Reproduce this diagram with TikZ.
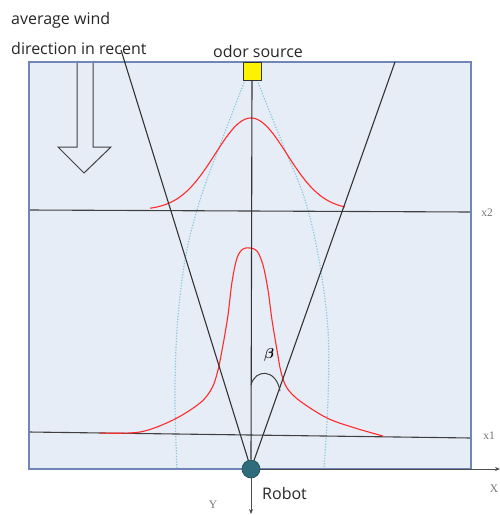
\documentclass[tikz,border=0pt]{standalone}
\usepackage{amsmath}
\usepackage{fontspec}
\setmainfont{Open Sans}
\newfontfamily\serifx{Liberation Serif}
\usetikzlibrary{arrows.meta}
\definecolor{bgblue}{HTML}{E7EDF7}
\definecolor{boxborder}{HTML}{6F86B6}
\definecolor{plumeblue}{HTML}{85C6DD}
\definecolor{robotfill}{HTML}{2E6C7B}
\definecolor{robotedge}{HTML}{1E4A56}
\definecolor{curvered}{HTML}{FF2A2A}
\tikzset{
  ray/.style={draw=black!80, line width=1.1pt},
  hline/.style={draw=black!75, line width=1.1pt},
  odor/.style={draw=curvered, line width=1.1pt},
  plume/.style={draw=plumeblue, line width=1.2pt, dash pattern=on 1.2pt off 1.6pt},
  lbl/.style={font=\fontsize{16}{18}\selectfont, inner sep=0pt, anchor=west, text=black!85},
  axlbl/.style={font=\serifx\fontsize{11.5}{13}\selectfont, text=black!55, inner sep=0pt},
  axisline/.style={draw=black!70, line width=1pt, -{Stealth[length=5pt,width=4pt]}},
}
\begin{document}
\begin{tikzpicture}[x=1pt,y=-1pt]
\useasboundingbox (0,0) rectangle (500,515);
% field
\fill[bgblue] (29,62) rectangle (471,469);
% plume boundaries
\draw[plume] plot[smooth, tension=0.6] coordinates {(245,80) (222,140) (200,200) (185,260) (177,330) (175,400) (177,469)};
\draw[plume] plot[smooth, tension=0.6] coordinates {(257,80) (281,140) (305,200) (319,260) (328,330) (328,400) (324,469)};
% horizontal cross sections
\coordinate (x2l) at (29,210);
\coordinate (x2r) at (471,212);
\coordinate (x1l) at (29,432);
\coordinate (x1r) at (471,438);
\draw[hline] (x2l) -- (x2r);
\draw[hline] (x1l) -- (x1r);
% red concentration curves
\draw[odor] plot[domain=150:345, samples=90] (\x, {210-92*exp(-((\x-251)^2)/(2*36^2))});
\draw[odor] plot[smooth, tension=0.55] coordinates {(100,433) (140,432) (173,420) (200,403) (212,388) (218,370) (223,345) (228,315) (232,282) (237,258) (243,249) (250,248) (257,251) (263,265) (268,290) (272,320) (277,350) (281,372) (287,388) (300,401) (327,418) (355,428) (383,436)};
% wind arrow
\draw[draw=black!75, line width=1pt, line join=miter] (77,62) -- (77,147) -- (58,147) -- (84,173) -- (111,147) -- (93,147) -- (93,62);
% border
\draw[boxborder, line width=1.6pt] (29,62) rectangle (471,469);
% nodes
\node[draw=black!80, fill=yellow, minimum size=18pt, inner sep=0pt, line width=0.8pt] (src) at (252,71) {};
\node[circle, draw=robotedge, fill=robotfill, minimum size=18pt, inner sep=0pt, line width=0.6pt] (robot) at (251,469) {};
\coordinate (ltop) at (121,50);
\coordinate (rtop) at (395,62);
\coordinate (yend) at (251,514);
\coordinate (xend) at (500,469);
% axes
\draw[axisline] (robot.south) -- (yend);
\draw[draw=black!60, line width=1pt] (471,469) -- (495,469);
\draw[axisline] (robot.east) -- (xend);
% central line and rays
\draw[ray] (src.south) -- (robot.north);
\draw[ray] (ltop) -- (robot);
\draw[ray] (rtop) -- (robot);
% beta arc
\draw[draw=black!75, line width=1pt] (251,385) .. controls (255,369) and (276,368) .. (280,391);
\node[font=\fontsize{14}{16}\selectfont, inner sep=0pt] (beta) at (269,355) {$\boldsymbol{\beta}$};
% labels
\node[lbl] (t1) at (11,20) {average wind};
\node[lbl] (t2) at (11,48) {direction in recent};
\node[lbl, anchor=south] (t3) at (258,58) {odor source};
\node[lbl] (t4) at (262,493) {Robot};
\node[axlbl] (lx2) at (487,213) {x2};
\node[axlbl] (lx1) at (489,436) {x1};
\node[axlbl] (lX) at (494,489) {X};
\node[axlbl] (lY) at (213,505) {Y};
\end{tikzpicture}
\end{document}
